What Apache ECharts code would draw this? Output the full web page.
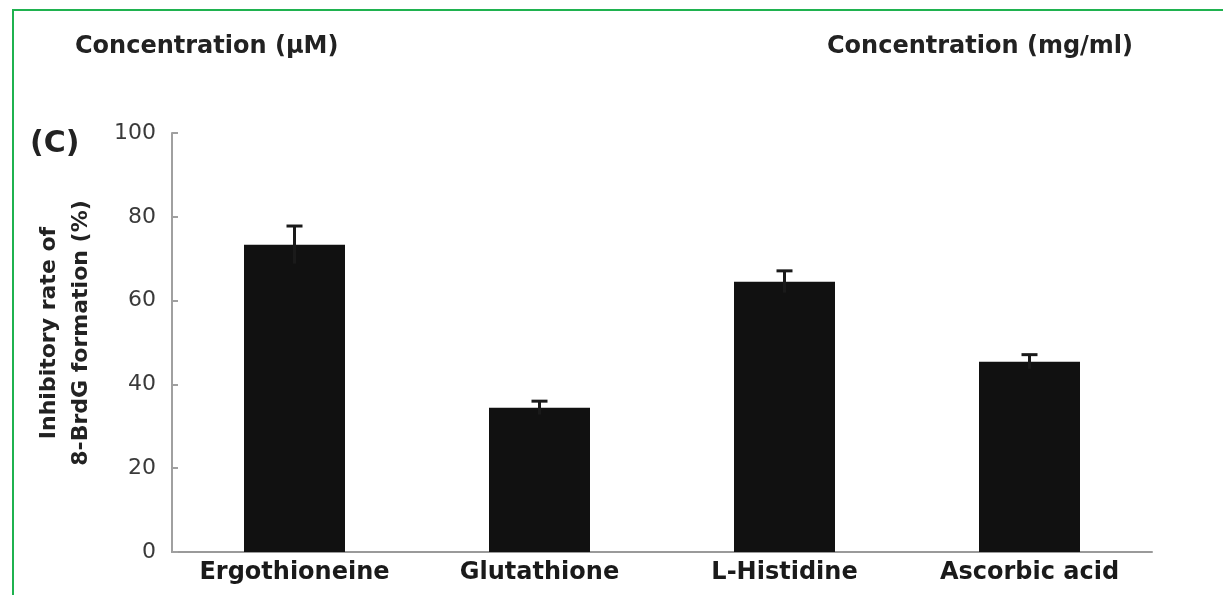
<!DOCTYPE html>
<html>
<head>
<meta charset="utf-8">
<script src="https://cdn.jsdelivr.net/npm/echarts@6/dist/echarts.min.js"></script>
<style>
  html, body { margin: 0; padding: 0; background: #fff; }
  #chart { width: 1223px; height: 595px; }
</style>
</head>
<body>
<div id="chart"></div>
<script>
// Compounds tested and their mean inhibitory rate with standard error
const categories = ['Ergothioneine', 'Glutathione', 'L-Histidine', 'Ascorbic acid'];
const inhibitionRate = [73.3, 34.4, 64.5, 45.4];
const errorValues = [4.5, 1.6, 2.6, 1.7];
const yTicks = [0, 20, 40, 60, 80, 100];

const FONT = '"DejaVu Sans", "Liberation Sans", Arial, sans-serif';

const errorData = categories.map((c, i) => [i, inhibitionRate[i], errorValues[i]]);

const chart = echarts.init(document.getElementById('chart'), null, { renderer: 'canvas' });

chart.setOption({
  animation: false,
  backgroundColor: '#ffffff',
  grid: { left: 172, right: 71, top: 133, bottom: 43, containLabel: false },
  xAxis: {
    type: 'category',
    data: categories,
    axisLine: { show: true, lineStyle: { color: '#9a9a9a', width: 2 } },
    axisTick: { show: false },
    axisLabel: {
      interval: 0,
      margin: 9,
      color: '#1a1a1a',
      fontFamily: FONT,
      fontWeight: 'bold',
      fontSize: 24
    }
  },
  yAxis: {
    type: 'value',
    min: yTicks[0],
    max: yTicks[yTicks.length - 1],
    interval: 20,
    splitLine: { show: false },
    axisLine: { show: true, lineStyle: { color: '#a0a0a0', width: 2 } },
    axisTick: { show: true, inside: true, length: 6, lineStyle: { color: '#a0a0a0', width: 2 } },
    axisLabel: {
      margin: 16,
      color: '#3a3a3a',
      fontFamily: FONT,
      fontSize: 22
    }
  },
  graphic: [
    {
      type: 'rect',
      shape: { x: 13, y: 10, width: 1400, height: 800 },
      style: { fill: 'none', stroke: '#1fb24f', lineWidth: 2 },
      silent: true
    },
    {
      type: 'text',
      x: 75, y: 47,
      style: {
        text: 'Concentration (µM)',
        fill: '#222', font: 'bold 24px ' + FONT,
        textAlign: 'left', textVerticalAlign: 'middle'
      }
    },
    {
      type: 'text',
      x: 827, y: 47,
      style: {
        text: 'Concentration (mg/ml)',
        fill: '#222', font: 'bold 24px ' + FONT,
        textAlign: 'left', textVerticalAlign: 'middle'
      }
    },
    {
      type: 'text',
      x: 30, y: 144,
      style: {
        text: '(C)',
        fill: '#222', font: 'bold 30px ' + FONT,
        textAlign: 'left', textVerticalAlign: 'middle'
      }
    },
    {
      type: 'text',
      x: 65, y: 333,
      rotation: Math.PI / 2,
      style: {
        text: 'Inhibitory rate of\n8-BrdG formation (%)',
        fill: '#222', font: 'bold 22px ' + FONT,
        lineHeight: 32,
        textAlign: 'center', textVerticalAlign: 'middle'
      }
    }
  ],
  series: [
    {
      type: 'bar',
      data: inhibitionRate,
      barWidth: 101,
      itemStyle: { color: '#111111' },
      z: 2
    },
    {
      type: 'custom',
      data: errorData,
      z: 3,
      renderItem: function (params, api) {
        const x = api.value(0);
        const mean = api.value(1);
        const err = api.value(2);
        const top = api.coord([x, mean + err]);
        const bottom = api.coord([x, mean - err]);
        const half = 8;
        const style = { stroke: '#1a1a1a', lineWidth: 3 };
        return {
          type: 'group',
          children: [
            { type: 'line', shape: { x1: top[0], y1: top[1], x2: bottom[0], y2: bottom[1] }, style: style },
            { type: 'line', shape: { x1: top[0] - half, y1: top[1], x2: top[0] + half, y2: top[1] }, style: style }
          ]
        };
      }
    }
  ]
});
</script>
</body>
</html>
